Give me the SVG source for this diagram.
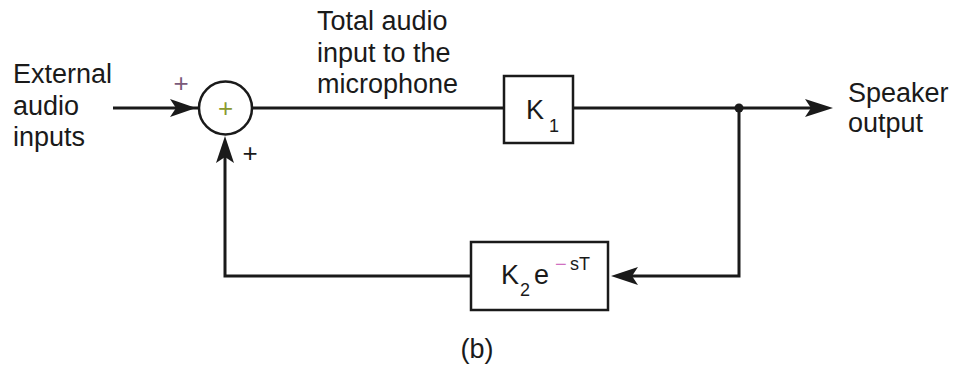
<svg xmlns="http://www.w3.org/2000/svg" width="954" height="369" viewBox="0 0 954 369">
<style>
text{font-family:"Liberation Sans",Arial,sans-serif;fill:#1a1a1a}
.lbl{font-size:27px}
.line{stroke:#1a1a1a;stroke-width:3;fill:none}
.box{stroke:#1a1a1a;stroke-width:2.5;fill:#fff}
.head{fill:#1a1a1a}
</style>
<rect width="954" height="369" fill="#fff"/>
<g id="connectors">
<line class="line" x1="113" y1="108" x2="199" y2="108"/>
<polygon class="head" points="196,108 170,99 176,108 170,117"/>
<line class="line" x1="252" y1="108" x2="504" y2="108"/>
<line class="line" x1="573" y1="108" x2="820" y2="108"/>
<polygon class="head" points="833,108 805,99 811,108 805,117"/>
<circle cx="739" cy="108" r="4.5" fill="#1a1a1a"/>
<polyline class="line" points="739,108 739,276 625,276"/>
<polygon class="head" points="611,276 638,267 632,276 638,285"/>
<polyline class="line" points="471,276 225,276 225,148"/>
<polygon class="head" points="225,136 216,163 225,157 234,163"/>
</g>
<g id="sum">
<circle cx="225.5" cy="108" r="26.5" stroke="#1a1a1a" stroke-width="2.5" fill="#fff"/>
<text x="225.5" y="117" font-size="26" text-anchor="middle" style="fill:#8a9a30">+</text>
</g>
<g id="k1">
<rect class="box" x="504" y="76" width="69" height="67"/>
<text x="526" y="119" font-size="27">K</text>
<text x="549" y="132" font-size="18">1</text>
</g>
<g id="k2">
<rect class="box" x="471" y="242" width="137" height="68"/>
<text x="501" y="284" font-size="27">K</text>
<text x="520" y="296" font-size="18">2</text>
<text x="534" y="284" font-size="27">e</text>
<text x="555" y="271" font-size="20" style="fill:#d070c0">−</text>
<text x="570" y="270" font-size="18">sT</text>
</g>
<g id="labels">
<text class="lbl" x="13" y="83">External</text>
<text class="lbl" x="13" y="115">audio</text>
<text class="lbl" x="13" y="146">inputs</text>
<text class="lbl" x="317" y="30">Total audio</text>
<text class="lbl" x="317" y="62">input to the</text>
<text class="lbl" x="317" y="93">microphone</text>
<text class="lbl" x="848" y="102">Speaker</text>
<text class="lbl" x="848" y="132">output</text>
<text x="181" y="92" font-size="26" text-anchor="middle" style="fill:#7a5a7a">+</text>
<text x="250" y="162" font-size="26" text-anchor="middle">+</text>
<text class="lbl" x="477" y="358" text-anchor="middle">(b)</text>
</g>
</svg>
